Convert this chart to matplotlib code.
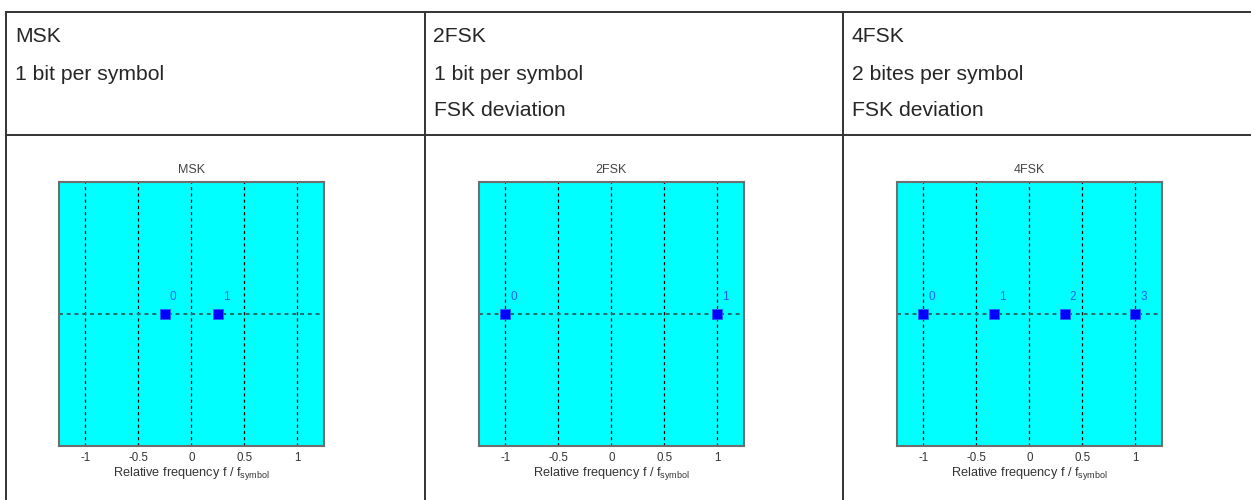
import matplotlib
matplotlib.use("Agg")
import matplotlib.pyplot as plt
from matplotlib.lines import Line2D

plt.rcParams['font.family'] = ['Liberation Sans', 'DejaVu Sans']
plt.rcParams['mathtext.fontset'] = 'custom'
plt.rcParams['mathtext.rm'] = 'Liberation Sans'

# Modulation schemes and their symbol frequencies (relative to symbol rate)
schemes = ["MSK", "2FSK", "4FSK"]
header_lines = [
    ["MSK", "1 bit per symbol"],
    ["2FSK", "1 bit per symbol", "FSK deviation"],
    ["4FSK", "2 bites per symbol", "FSK deviation"],
]
symbol_freqs = [
    [-0.25, 0.25],
    [-1.0, 1.0],
    [-1.0, -1/3, 1/3, 1.0],
]
symbol_labels = [
    ["0", "1"],
    ["0", "1"],
    ["0", "1", "2", "3"],
]
tick_values = [-1, -0.5, 0, 0.5, 1]
tick_labels = ["-1", "-0.5", "0", "0.5", "1"]

W, H = 1251, 500
fig = plt.figure(figsize=(W / 100, H / 100), dpi=100)


def fx(px):
    return px / W


def fy(py):
    return 1 - py / H


# Table grid
line_kw = dict(color="#333333", lw=1.4, transform=fig.transFigure)
top, header_bottom = 11.5, 135
col_edges = [6, 424.5, 843]
fig.add_artist(Line2D([fx(6), fx(W)], [fy(top), fy(top)], **line_kw))
fig.add_artist(Line2D([fx(6), fx(W)], [fy(header_bottom), fy(header_bottom)], **line_kw))
for cx in col_edges:
    fig.add_artist(Line2D([fx(cx), fx(cx)], [fy(top), fy(H + 2)], **line_kw))

# Header cell text
baselines = [42.5, 79.5, 116.5]
for cx, lines in zip(col_edges, header_lines):
    for base, txt in zip(baselines, lines):
        fig.text(fx(cx + 9), fy(base), txt, fontsize=15.2, color="#262626",
                 ha="left", va="baseline")

# Constellation panels
ax_lefts = [58.7, 478.7, 896.7]
ax_w, ax_top, ax_bottom = 265.3, 181.7, 446.0
for i, name in enumerate(schemes):
    ax = fig.add_axes([fx(ax_lefts[i]), fy(ax_bottom), ax_w / W, (ax_bottom - ax_top) / H])
    ax.set_facecolor("#00FFFF")
    ax.set_xlim(-1.25, 1.25)
    ax.set_ylim(-1, 1)
    for s in ax.spines.values():
        s.set_color("#6e6e6e")
        s.set_linewidth(1.5)
    for tv in tick_values:
        ax.axvline(tv, color="black", lw=0.9, ls=(0, (2.5, 2.5)), zorder=1)
    ax.axhline(0, color="#2a6a70", lw=1.4, ls=(0, (2, 2)), zorder=1)
    xs = symbol_freqs[i]
    ax.plot(xs, [0] * len(xs), ls="none", marker="s", ms=6.8,
            mfc="#0000FF", mec="#2a5cff", mew=0.6, zorder=3)
    for x, lab in zip(xs, symbol_labels[i]):
        ax.annotate(lab, (x, 0), xytext=(6, 12), textcoords="offset points",
                    ha="center", va="center", fontsize=8.5, color="#2060ff")
    ax.set_xticks(tick_values)
    ax.set_xticklabels(tick_labels)
    ax.set_yticks([])
    ax.tick_params(axis="x", length=0, pad=4, labelsize=8.3, labelcolor="#333333")
    ax.set_title(name, fontsize=9, color="#444444", pad=6)
    ax.set_xlabel(r"Relative frequency f / f$_{\mathregular{symbol}}$",
                  fontsize=9.2, color="#333333", labelpad=1)

fig.savefig("out.png", dpi=100)
